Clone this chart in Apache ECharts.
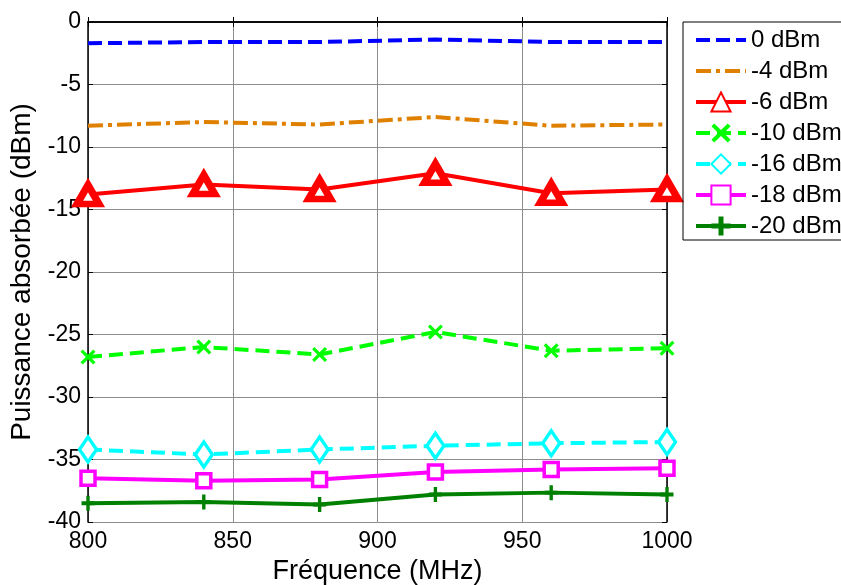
<!DOCTYPE html>
<html><head><meta charset="utf-8">
<script src="https://cdn.jsdelivr.net/npm/echarts@6/dist/echarts.min.js"></script>
<style>html,body{margin:0;padding:0;background:#fff}#c{width:841px;height:585px}</style>
</head><body><div id="c"></div>
<script>
const freqs = [800, 840, 880, 920, 960, 1000];
const names = ['0 dBm', '-4 dBm', '-6 dBm', '-10 dBm', '-16 dBm', '-18 dBm', '-20 dBm'];
const s0 = [-1.7, -1.6, -1.6, -1.4, -1.6, -1.6];
const s4 = [-8.3, -8.0, -8.2, -7.6, -8.3, -8.2];
const s6 = [-13.8, -13.0, -13.4, -12.1, -13.7, -13.4];
const s10 = [-26.8, -26.0, -26.6, -24.8, -26.3, -26.1];
const s16 = [-34.2, -34.6, -34.2, -33.9, -33.7, -33.6];
const s18 = [-36.5, -36.7, -36.6, -36.0, -35.8, -35.7];
const s20 = [-38.5, -38.4, -38.6, -37.8, -37.65, -37.8];
const xTicks = [800, 850, 900, 950, 1000];
const yTicks = [0, -5, -10, -15, -20, -25, -30, -35, -40];

const FONT = 'Liberation Sans, Arial, sans-serif';
const pair = a => a.map((v, i) => [freqs[i], v]);
const X_PATH = 'path://M0,1.5L1.5,0L5,3.5L8.5,0L10,1.5L6.5,5L10,8.5L8.5,10L5,6.5L1.5,10L0,8.5L3.5,5Z';
const PLUS_PATH = 'path://M3.7,0H6.3V3.7H10V6.3H6.3V10H3.7V6.3H0V3.7H3.7Z';

function mk(name, data, color, type, opts) {
  return Object.assign({
    name, type: 'line', data: pair(data),
    lineStyle: { color, width: 4, type },
    itemStyle: { color: 'rgba(0,0,0,0)' },
    showSymbol: false, symbol: 'circle', symbolSize: 1,
    animation: false
  }, opts || {});
}

const series = [
  mk(names[0], s0, '#0000ff', [14, 6]),
  mk(names[1], s4, '#df8000', [15, 5, 4, 5]),
  mk(names[2], s6, '#ff0000', 'solid', { showSymbol: true, symbol: 'triangle', symbolSize: [22, 19],
     itemStyle: { color: '#ffffff', borderColor: '#ff0000', borderWidth: 7 } }),
  mk(names[3], s10, '#00ff00', [14, 7], { showSymbol: true, symbol: X_PATH, symbolSize: 15,
     itemStyle: { color: '#00ff00' } }),
  mk(names[4], s16, '#00ffff', [14, 7], { showSymbol: true, symbol: 'diamond', symbolSize: [17, 25],
     itemStyle: { color: '#ffffff', borderColor: '#00ffff', borderWidth: 3.5 } }),
  mk(names[5], s18, '#ff00ff', 'solid', { showSymbol: true, symbol: 'rect', symbolSize: 14,
     itemStyle: { color: '#ffffff', borderColor: '#ff00ff', borderWidth: 3.5 } }),
  mk(names[6], s20, '#008000', 'solid', { showSymbol: true, symbol: PLUS_PATH, symbolSize: [13, 15],
     itemStyle: { color: '#008000' } })
];

const chart = echarts.init(document.getElementById('c'), null, { renderer: 'canvas' });
const axisLine = { show: true, lineStyle: { color: '#000', width: 1.5 } };
const tick = { show: true, inside: true, length: 5, lineStyle: { color: '#000' } };
chart.setOption({
  backgroundColor: '#fff',
  textStyle: { fontFamily: FONT },
  grid: { left: 88, right: 174, top: 22, bottom: 63, containLabel: false, outerBoundsMode: 'none' },
  legend: {
    left: 683, top: 22, orient: 'vertical',
    data: names,
    itemWidth: 50, itemHeight: 24, itemGap: 7,
    padding: [6, 3, 2, 11],
    borderColor: '#000', borderWidth: 1,
    lineStyle: { width: 4 },
    textStyle: { fontSize: 24, color: '#000', fontFamily: FONT }
  },
  xAxis: [{
    type: 'value', min: xTicks[0], max: xTicks[xTicks.length - 1], interval: 50,
    name: 'Fréquence (MHz)', nameLocation: 'middle', nameGap: 36,
    nameTextStyle: { fontSize: 27, color: '#000', fontFamily: FONT },
    axisLine, axisTick: tick,
    axisLabel: { fontSize: 23, color: '#000', margin: 8, fontFamily: FONT, formatter: v => String(v) },
    splitLine: { show: true, lineStyle: { color: '#8c8c8c', width: 1 } }
  }, {
    type: 'value', position: 'top', min: xTicks[0], max: xTicks[xTicks.length - 1], interval: 50,
    axisLine, axisTick: tick, axisLabel: { show: false }, splitLine: { show: false }
  }],
  yAxis: [{
    type: 'value', min: yTicks[yTicks.length - 1], max: yTicks[0], interval: 5,
    name: 'Puissance absorbée (dBm)', nameLocation: 'middle', nameGap: 52,
    nameTextStyle: { fontSize: 28, color: '#000', fontFamily: FONT },
    axisLine, axisTick: tick,
    axisLabel: { fontSize: 23, color: '#000', margin: 7, fontFamily: FONT, formatter: v => String(v) },
    splitLine: { show: true, lineStyle: { color: '#8c8c8c', width: 1 } }
  }, {
    type: 'value', position: 'right', min: yTicks[yTicks.length - 1], max: yTicks[0], interval: 5,
    axisLine, axisTick: tick, axisLabel: { show: false }, splitLine: { show: false }
  }],
  series
});
</script></body></html>
